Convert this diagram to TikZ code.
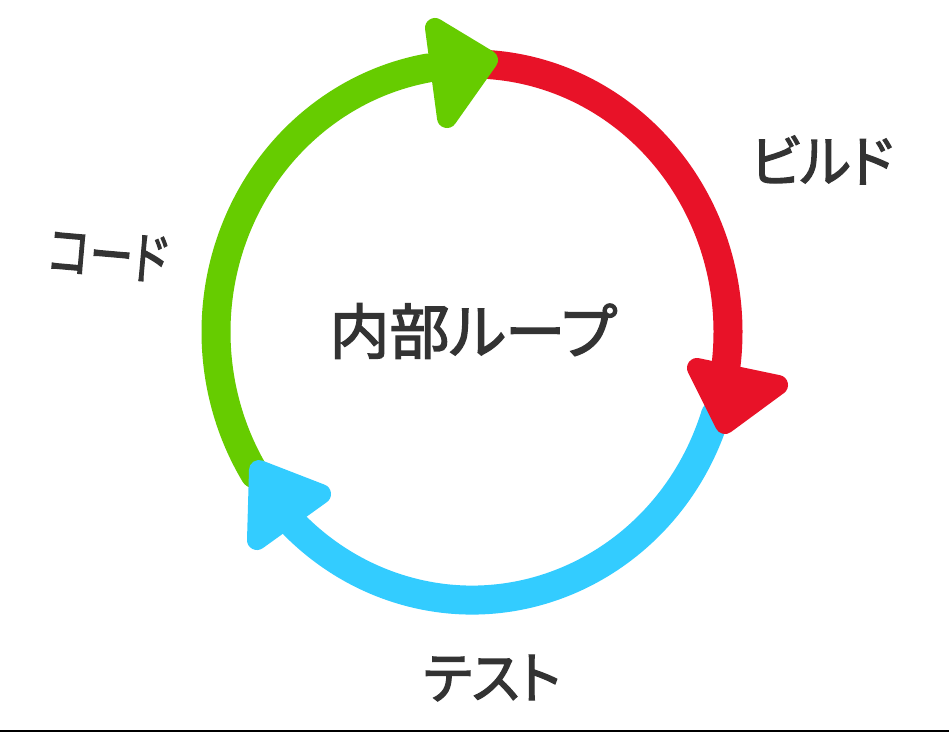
\documentclass[tikz,border=0pt]{standalone}
\usepackage{fontspec}
\newfontfamily\jp[RawFeature=+palt,FakeBold=2.4]{Noto Sans CJK JP}
\definecolor{cgreen}{HTML}{66CC00}
\definecolor{cred}{HTML}{E81228}
\definecolor{cblue}{HTML}{33CCFF}
\definecolor{ctext}{HTML}{333333}
\tikzset{
  loopline/.style={line width=29pt, line cap=round, line join=round},
  headshape/.style={line width=20pt, line join=round},
  lbl/.style={text=ctext, font=\jp\fontsize{56}{60}\selectfont, inner sep=0pt},
}
\begin{document}
\begin{tikzpicture}[x=1pt,y=1pt]
\useasboundingbox (0,0) rectangle (949,-733);
\fill[white] (0,0) rectangle (949,-733);
\coordinate (c) at (472,-332);
% loop segments
\draw[loopline, cgreen] ([shift={(c)}]212:256 and 268) arc[start angle=212, end angle=100, x radius=256, y radius=268];
\draw[loopline, cred] ([shift={(c)}]86:256 and 268) arc[start angle=86, end angle=-7, x radius=256, y radius=268];
\draw[loopline, cblue] ([shift={(c)}]-18:256 and 268) arc[start angle=-18, end angle=-134, x radius=256, y radius=268];
% arrowheads
\coordinate (g1) at (435,-28);
\coordinate (g2) at (447,-118);
\coordinate (g3) at (488,-60);
\filldraw[headshape, cgreen] (g1) -- (g3) -- (g2) -- cycle;
\coordinate (r1) at (697,-368);
\coordinate (r2) at (778,-385);
\coordinate (r3) at (725,-424);
\filldraw[headshape, cred] (r1) -- (r2) -- (r3) -- cycle;
\coordinate (b1) at (259,-470);
\coordinate (b2) at (321,-494);
\coordinate (b3) at (257,-540);
\filldraw[headshape, cblue] (b1) -- (b2) -- (b3) -- cycle;
% labels
\node[lbl, font=\jp\fontsize{60}{64}\selectfont] (center) at (473,-331) {内部ループ};
\node[lbl, xscale=0.96] (build) at (822,-160) {ビルド};
\node[lbl, rotate=-5, xscale=0.78] (code) at (108,-255) {コード};
\node[lbl, xscale=0.95] (test) at (492,-678) {テスト};
% bottom rule
\coordinate (bl) at (0,-731);
\coordinate (br) at (949,-731);
\draw[line width=2pt, black] (bl) -- (br);
\end{tikzpicture}
\end{document}
